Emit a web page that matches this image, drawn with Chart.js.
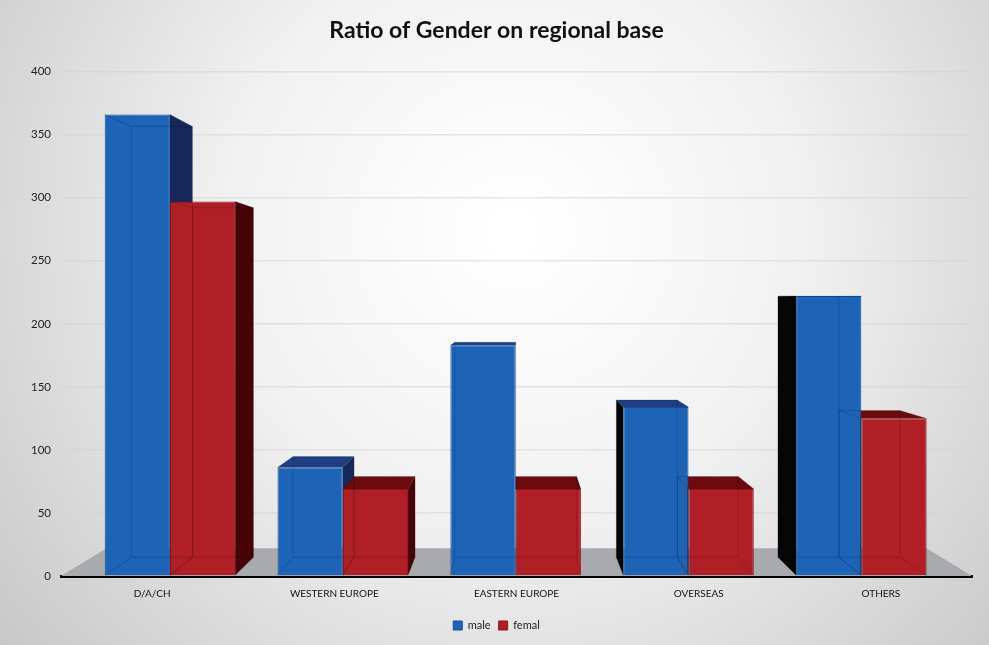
<!DOCTYPE html>
<html>
<head>
<meta charset="utf-8">
<script src="https://cdn.jsdelivr.net/npm/chart.js@4.4.1/dist/chart.umd.min.js"></script>
<style>
  html, body { margin: 0; padding: 0; background: #fff; }
  #wrap { width: 989px; height: 645px; }
</style>
</head>
<body>
<div id="wrap"><canvas id="genderChart"></canvas></div>
<script>
// values
const regions = ["D/A/CH", "WESTERN EUROPE", "EASTERN EUROPE", "OVERSEAS", "OTHERS"];
const maleCounts = [366, 86, 183, 134, 222];
const femalCounts = [297, 69, 69, 69, 125];
const yMax = 400;
const yStep = 50;

// colours per series: front, side, top
const maleColors = { front: "#1d63b6", side: "#16285a", top: "#1f3f82", edge: "#164e98" };
const femalColors = { front: "#b11f26", side: "#470308", top: "#6b0b0e", edge: "#8b1419" };

function toBack(p, vp, k) {
  return { x: p.x + (vp.x - p.x) * k, y: p.y + (vp.y - p.y) * k };
}

function fillQuad(ctx, pts, color) {
  ctx.beginPath();
  ctx.moveTo(pts[0].x, pts[0].y);
  for (let i = 1; i < pts.length; i++) ctx.lineTo(pts[i].x, pts[i].y);
  ctx.closePath();
  ctx.fillStyle = color;
  ctx.fill();
}

function vanishing(chart) {
  const a = chart.chartArea;
  return { x: (a.left + a.right) / 2, y: a.top + (a.bottom - a.top) * 0.45 };
}

// light background with a bright middle
const backdrop = {
  id: "backdrop",
  beforeDraw(chart) {
    const { ctx, width, height } = chart;
    const g = ctx.createRadialGradient(width * 0.52, height * 0.36, 20, width * 0.52, height * 0.36, width * 0.7);
    g.addColorStop(0, "#ffffff");
    g.addColorStop(0.4, "#f1f1f1");
    g.addColorStop(1, "#c4c4c4");
    ctx.save();
    ctx.fillStyle = g;
    ctx.fillRect(0, 0, width, height);
    ctx.restore();
  }
};

// fake 3d: floor, side and top faces behind the front faces
const depth = {
  id: "depth",
  beforeDatasetsDraw(chart) {
    const { ctx, chartArea: a } = chart;
    const vp = vanishing(chart);
    ctx.save();
    const fl = { x: a.left, y: a.bottom }, fr = { x: a.right, y: a.bottom };
    fillQuad(ctx, [fl, fr, toBack(fr, vp, 0.1), toBack(fl, vp, 0.1)], "#a8aaad");

    const k = 0.065;
    for (let i = 0; i < regions.length; i++) {
      chart.data.datasets.forEach((ds, di) => {
        const bar = chart.getDatasetMeta(di).data[i];
        const p = bar.getProps(["x", "y", "base", "width"], true);
        const L = p.x - p.width / 2, R = p.x + p.width / 2, T = p.y, B = p.base;
        const c = di === 0 ? maleColors : femalColors;
        if (R < vp.x - 3) {
          const q = [{ x: R, y: T }, null, null, { x: R, y: B }];
          q[1] = toBack(q[0], vp, k); q[2] = toBack(q[3], vp, k);
          fillQuad(ctx, q, c.side);
        }
        if (L > vp.x + 3) {
          const q = [{ x: L, y: T }, null, null, { x: L, y: B }];
          q[1] = toBack(q[0], vp, k); q[2] = toBack(q[3], vp, k);
          fillQuad(ctx, q, "#060606");
        }
        if (T > vp.y) {
          const tl = { x: L, y: T }, tr = { x: R, y: T };
          fillQuad(ctx, [tl, tr, toBack(tr, vp, k), toBack(tl, vp, k)], c.top);
        }
      });
    }
    ctx.restore();
  },
  afterDatasetsDraw(chart) {
    // faint back edges seen through the front faces
    const { ctx } = chart;
    const vp = vanishing(chart);
    const k = 0.065;
    ctx.save();
    ctx.strokeStyle = "rgba(0,0,40,0.16)";
    ctx.lineWidth = 1;
    chart.data.datasets.forEach((ds, di) => {
      chart.getDatasetMeta(di).data.forEach(bar => {
        const p = bar.getProps(["x", "y", "base", "width"], true);
        const c = [{ x: p.x - p.width / 2, y: p.y }, { x: p.x + p.width / 2, y: p.y },
                   { x: p.x + p.width / 2, y: p.base }, { x: p.x - p.width / 2, y: p.base }];
        const b = c.map(pt => toBack(pt, vp, k));
        ctx.beginPath();
        ctx.moveTo(b[0].x, b[0].y);
        for (let j = 1; j < 4; j++) ctx.lineTo(b[j].x, b[j].y);
        ctx.closePath();
        for (let j = 0; j < 4; j++) { ctx.moveTo(c[j].x, c[j].y); ctx.lineTo(b[j].x, b[j].y); }
        ctx.stroke();
      });
    });
    ctx.restore();
  }
};

const ctx = document.getElementById("genderChart").getContext("2d");
new Chart(ctx, {
  type: "bar",
  data: {
    datasets: [
      {
        label: "male",
        data: maleCounts.map((v, i) => ({ x: i, y: v })),
        backgroundColor: maleColors.front,
        borderColor: maleColors.edge,
        borderWidth: 1
      },
      {
        label: "femal",
        data: femalCounts.map((v, i) => ({ x: i, y: v })),
        backgroundColor: femalColors.front,
        borderColor: femalColors.edge,
        borderWidth: 1
      }
    ]
  },
  options: {
    responsive: true,
    maintainAspectRatio: false,
    animation: false,
    layout: { padding: { left: 21, right: 17, top: 0, bottom: 4 } },
    datasets: { bar: { categoryPercentage: 0.755, barPercentage: 1 } },
    scales: {
      // bars sit a little tighter than the labels (perspective), so they get their own axis
      x: {
        type: "linear",
        min: -0.63,
        max: 4.64,
        offset: false,
        grid: { offset: false },
        ticks: { stepSize: 1, includeBounds: false },
        display: false
      },
      xl: {
        type: "category",
        labels: regions,
        position: "bottom",
        offset: true,
        grid: { display: false },
        border: { display: true, color: "#000", width: 3 },
        ticks: { color: "#111", font: { family: "Lato", size: 10 }, padding: 4 },
        afterFit(scale) { scale.height += 8; }
      },
      y: {
        min: 0,
        max: yMax,
        ticks: { stepSize: yStep, color: "#222", font: { family: "Lato", size: 11.5 }, padding: 10 },
        grid: { color: "rgba(212,212,212,0.55)", lineWidth: 1.5, drawTicks: false },
        border: { display: false }
      }
    },
    plugins: {
      title: {
        display: true,
        text: "Ratio of Gender on regional base",
        color: "#111",
        font: { family: "Lato", size: 23, weight: "bold" },
        padding: { top: 17, bottom: 27 }
      },
      legend: {
        position: "bottom",
        labels: {
          boxWidth: 9,
          boxHeight: 9,
          padding: 8,
          color: "#222",
          font: { family: "Lato", size: 11 }
        }
      },
      tooltip: { enabled: false }
    }
  },
  plugins: [backdrop, depth]
});
</script>
</body>
</html>
